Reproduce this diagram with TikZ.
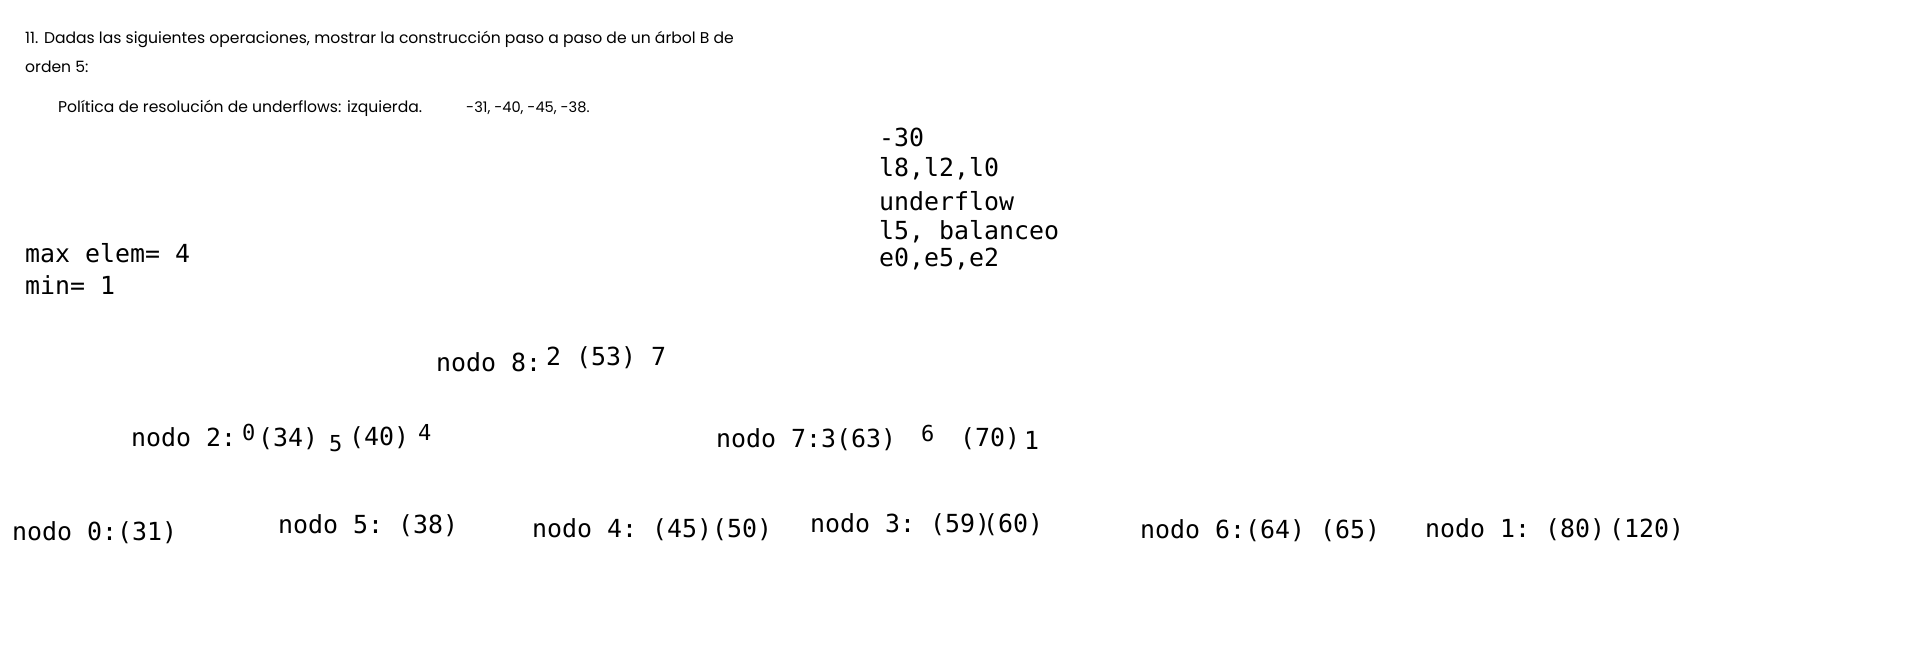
\documentclass[tikz,border=0pt]{standalone}
\usepackage{fontspec}
\setmonofont{DejaVu Sans Mono}
\newfontfamily\headfont{Poppins}
\begin{document}
\begin{tikzpicture}[x=1pt,y=-1pt,
  mono/.style={anchor=west,inner sep=0pt,font=\fontsize{24.9}{30}\ttfamily},
  small/.style={anchor=west,inner sep=0pt,font=\fontsize{22}{26}\ttfamily},
  head/.style={anchor=west,inner sep=0pt,font=\fontsize{15.6}{18}\headfont}]
\useasboundingbox (0,0) rectangle (1914,662);
% heading
\node[head] (h1) at (25,39) {11. Dadas las siguientes operaciones, mostrar la construcción paso a paso de un árbol B de};
\node[head] (h2) at (25,67) {orden 5:};
\node[head] (h3) at (58,108) {Política de resolución de underflows: izquierda.};
\node[head,font=\fontsize{14.6}{18}\headfont] (h4) at (466,108) {-31, -40, -45, -38.};
% notes
\node[mono] (n1) at (879,137) {-30};
\node[mono] (n2) at (879,169) {l8,l2,l0};
\node[mono] (n3) at (879,201) {underflow};
\node[mono] (n4) at (879,232) {l5, balanceo};
\node[mono] (n5) at (879,259) {e0,e5,e2};
\node[mono] (mx) at (25,253) {max elem= 4};
\node[mono] (mn) at (25,285) {min= 1};
% nodo 8
\node[mono] (k8) at (436,362) {nodo 8:};
\node[mono] (k8b) at (546,358) {2 (53) 7};
% nodo 2
\node[mono] (k2) at (131,437) {nodo 2:};
\node[small] (k2a) at (242,432) {0};
\node[mono] (k2b) at (258,439) {(34)};
\node[small] (k2c) at (329,444) {5};
\node[mono] (k2d) at (349,438) {(40)};
\node[small] (k2e) at (418,432) {4};
% nodo 7
\node[mono] (k7) at (716,440) {nodo 7:3(63)};
\node[small] (k7a) at (921,433) {6};
\node[mono] (k7b) at (960,439) {(70)};
\node[mono] (k7c) at (1024,440) {1};
% leaves
\node[mono] (k0) at (12,533) {nodo 0:(31)};
\node[mono] (k5) at (278,526) {nodo 5: (38)};
\node[mono] (k4) at (532,530) {nodo 4: (45)(50)};
\node[mono] (k3) at (810,525) {nodo 3: (59)\kern-7pt(60)};
\node[mono] (k6) at (1140,531) {nodo 6:(64) (65)};
\node[mono] (k1) at (1425,530) {nodo 1: (80)\kern4pt(120)};
\end{tikzpicture}
\end{document}
